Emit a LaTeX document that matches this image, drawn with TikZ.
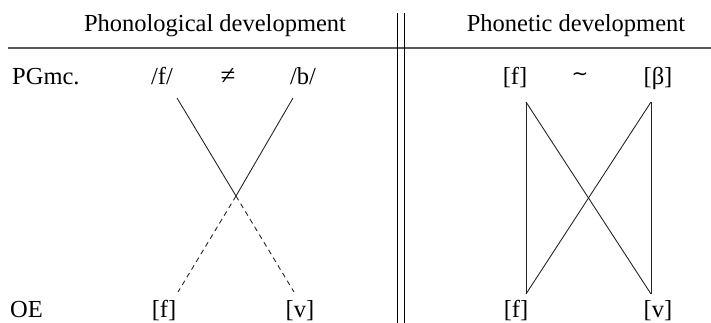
\documentclass[tikz,border=0pt]{standalone}
\usepackage{fontspec}
\setmainfont{Liberation Serif}
\newfontfamily\symfont{DejaVu Sans}
\begin{document}
\begin{tikzpicture}[x=1pt,y=-1pt,
  lbl/.style={anchor=base,inner sep=0pt,font=\fontsize{24.5}{28}\selectfont},
  lblw/.style={anchor=base west,inner sep=0pt,font=\fontsize{24.5}{28}\selectfont},
  conn/.style={line width=0.9pt,black!85},
  dconn/.style={conn,dash pattern=on 5pt off 4pt},
  rule/.style={line width=1.8pt,black!65},
  sep/.style={line width=0.9pt,black}]
\useasboundingbox (0,0) rectangle (711,323);
% headers
\node[lbl] (h1) at (215,32) {Phonological development};
\node[lbl] (h2) at (576,32) {Phonetic development};
\coordinate (rl) at (8,48);
\coordinate (rr) at (711,48);
\draw[rule] (rl) -- (rr);
\coordinate (s1t) at (397,13);
\coordinate (s1b) at (397,323);
\coordinate (s2t) at (404,13);
\coordinate (s2b) at (404,323);
\draw[sep] (s1t) -- (s1b);
\draw[sep] (s2t) -- (s2b);
% row labels
\node[lblw] (pg) at (12,85) {PGmc.};
\node[lblw] (oe) at (10,317) {OE};
% left diagram
\node[lbl] (lf) at (162,85) {/f/};
\node[lbl,font=\fontsize{27}{30}\selectfont] (ne) at (228,85) {≠};
\node[lbl] (lb) at (303,85) {/b/};
\node[lbl] (lof) at (164,317) {[f]};
\node[lbl] (lov) at (300,317) {[v]};
\coordinate (a1) at (177,98);
\coordinate (a2) at (293,98);
\coordinate (x) at (236,196);
\coordinate (b1) at (178,292);
\coordinate (b2) at (294,292);
\draw[conn] (a1) -- (x);
\draw[conn] (a2) -- (x);
\draw[dconn] (x) -- (b1);
\draw[dconn] (x) -- (b2);
% right diagram
\node[lbl] (rf) at (515,85) {[f]};
\node[lbl,font=\symfont\fontsize{20}{24}\selectfont] (sim) at (580,81) {∼};
\node[lbl] (rbeta) at (658,85) {[β]};
\node[lbl] (rof) at (516,317) {[f]};
\node[lbl] (rov) at (658,317) {[v]};
\coordinate (c1) at (526,102);
\coordinate (c2) at (651,102);
\coordinate (d1) at (526,294);
\coordinate (d2) at (651,294);
\draw[conn] (c1) -- (d1);
\draw[conn] (c2) -- (d2);
\draw[conn] (c1) -- (d2);
\draw[conn] (c2) -- (d1);
\end{tikzpicture}
\end{document}
